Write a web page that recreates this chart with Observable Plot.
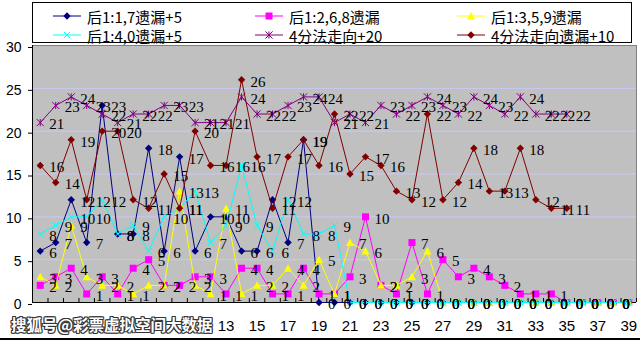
<!DOCTYPE html>
<html>
<head>
<meta charset="utf-8">
<script src="https://cdn.jsdelivr.net/npm/d3@7"></script>
<script src="https://cdn.jsdelivr.net/npm/@observablehq/plot@0.6"></script>
<style>
  html, body { margin:0; padding:0; background:#fff; }
  #chart { position:relative; width:640px; height:341px; overflow:hidden; }
  #chart > svg { position:absolute; left:0; top:0; }
  #legend { position:absolute; left:32px; top:2px; width:598px; height:39px; border:1px solid #000; background:#fff; }
  .item { position:absolute; height:18px; display:flex; align-items:center; font-family:"Noto Sans CJK SC"; font-size:15px; color:#000; white-space:nowrap; }
  .item svg { margin-right:6px; }
  #wm { position:absolute; left:8px; top:312px; width:208px; height:25px; background:#fff; font-family:"Noto Sans CJK SC"; font-weight:bold; font-size:15.5px; line-height:25px; color:#fff; padding-left:3px; box-sizing:border-box; white-space:nowrap;
        text-shadow: 1px 0 #333, -1px 0 #333, 0 1px #333, 0 -1px #333, 1px 1px #666, -1px -1px #333, 1px -1px #333, -1px 1px #333; }
  #bottomline { position:absolute; left:0; top:338px; width:640px; height:2px; background:#000; }
</style>
</head>
<body>
<div id="chart"></div>
<script>
// ---------- data ----------
const categories = [1,2,3,4,5,6,7,8,9,10,11,12,13,14,15,16,17,18,19,20,21,22,23,24,25,26,27,28,29,30,31,32,33,34,35,36,37,38,39];
// category labels 1..11 are hidden under the watermark in the reference
const xTickLabels = [13,15,17,19,21,23,25,27,29,31,33,35,37,39];
const yTicks = [0,5,10,15,20,25,30];

const seriesNames = ["后1:1,7遗漏+5", "后1:2,6,8遗漏", "后1:3,5,9遗漏", "后1:4,0遗漏+5", "4分法走向+20", "4分法走向遗漏+10"];
const seriesColors = ["#000080", "#ff00ff", "#ffff00", "#00ffff", "#800080", "#800000"];
const seriesSymbols = ["diamond", "square", "triangle", "x", "star", "diamond"];

const s1 = [6,7,12,7,23,8,8,18,6,17,6,10,10,6,6,12,7,19,0,0,0,0,0,0,0,0,0,0,0,0,0,0,0,0,0,0,0,0,0];
const s2 = [2,3,4,1,3,1,4,5,2,2,3,3,1,4,4,1,1,4,1,1,3,10,2,1,7,1,5,3,4,3,2,1,1,1,0,0,0,0,0];
const s3 = [3,2,9,3,2,2,1,2,2,13,2,1,11,1,2,2,4,2,5,1,7,6,2,2,3,6,0,0,0,0,0,0,0,0,0,0,0,0,0];
const s4 = [8,9,10,10,12,8,9,6,10,11,13,7,9,16,9,6,12,8,8,9,0,0,0,0,0,0,0,0,0,0,0,0,0,0,0,0,0,0,0];
const s5 = [21,23,24,23,22,21,22,22,23,23,21,21,21,24,22,22,23,24,24,21,22,21,23,22,23,24,23,22,24,23,22,24,22,22,22,null,null,null,null];
const s6 = [16,14,19,12,20,20,12,11,15,11,20,16,16,26,17,11,17,19,16,22,15,17,16,13,12,22,12,14,18,13,13,18,12,11,11,null,null,null,null];
const seriesValues = [s1, s2, s3, s4, s5, s6];

// ---------- symbols (Excel-like markers) ----------
function makeSymbol(kind) {
  return {
    draw(ctx, size) {
      const r = Math.sqrt(size / Math.PI);
      if (kind === "diamond") {
        ctx.moveTo(0, -r); ctx.lineTo(r, 0); ctx.lineTo(0, r); ctx.lineTo(-r, 0); ctx.closePath();
      } else if (kind === "square") {
        ctx.rect(-r, -r, 2 * r, 2 * r);
      } else if (kind === "triangle") {
        ctx.moveTo(0, -r); ctx.lineTo(r, r * 0.85); ctx.lineTo(-r, r * 0.85); ctx.closePath();
      } else if (kind === "x") {
        ctx.moveTo(-r, -r); ctx.lineTo(r, r); ctx.moveTo(-r, r); ctx.lineTo(r, -r);
      } else if (kind === "star") {
        ctx.moveTo(-r, -r); ctx.lineTo(r, r); ctx.moveTo(-r, r); ctx.lineTo(r, -r);
        ctx.moveTo(0, -r); ctx.lineTo(0, r);
      }
    }
  };
}
const filled = k => ["diamond", "square", "triangle"].includes(k);
const markerR = {diamond: 3.7, square: 3.5, triangle: 4, x: 3.2, star: 3.6};

// ---------- table ----------
const rows = [];
seriesValues.forEach((vals, k) => vals.forEach((v, i) => rows.push({k, name: seriesNames[k], x: categories[i], y: v})));
const lastCat = categories[categories.length - 1];
const boundaries = categories.map(c => c - 0.5).concat([lastCat + 0.5]);

// ---------- marks ----------
const marks = [
  Plot.frame({fill: "#c0c0c0", stroke: null}),
  Plot.ruleY(yTicks.filter(t => t > 0 && t < 30), {stroke: "#c8c8f8", strokeWidth: 1}),
  Plot.ruleY([yTicks[yTicks.length - 1]], {stroke: "#808080"}),
  Plot.ruleX([boundaries[boundaries.length - 1]], {stroke: "#808080"}),
  Plot.axisX(boundaries, {tickSize: -4, tickFormat: () => "", stroke: "#000", label: null}),
  Plot.axisX(xTickLabels, {tickSize: 0, tickPadding: 18, fontSize: 15, fontFamily: "Liberation Sans", fill: "#000", label: null}),
  Plot.axisY(yTicks, {tickSize: 4, tickPadding: 7, fontSize: 14, fontFamily: "Liberation Sans", fill: "#000", dy: 2, label: null}),
  Plot.ruleX([boundaries[0]], {stroke: "#000"}),
  Plot.ruleY([0], {stroke: "#000"})
];
seriesValues.forEach((vals, k) => {
  const data = rows.filter(d => d.k === k);
  const sym = seriesSymbols[k];
  marks.push(Plot.line(data, {x: "x", y: "y", stroke: seriesColors[k], strokeWidth: 1}));
  marks.push(Plot.dot(data.filter(d => d.y != null), {
    x: "x", y: "y", r: markerR[sym], symbol: makeSymbol(sym),
    fill: filled(sym) ? seriesColors[k] : "none",
    stroke: filled(sym) ? "none" : seriesColors[k], strokeWidth: 1
  }));
});
// data labels (the last category's labels fall outside the chart and are not shown)
marks.push(Plot.text(rows.filter(d => d.y != null && d.x !== lastCat), {
  x: "x", y: "y", text: d => String(d.y), textAnchor: "start", dx: 9, dy: 2,
  fontSize: 15, fontFamily: "Liberation Serif", fill: "#000"
}));

const svg = Plot.plot({
  width: 640, height: 341,
  marginTop: 45, marginBottom: 39, marginLeft: 32, marginRight: 4,
  x: {type: "linear", domain: [boundaries[0], boundaries[boundaries.length - 1]], label: null},
  y: {domain: [yTicks[0], yTicks[yTicks.length - 1]], label: null},
  style: {background: "transparent", color: "#000", fontFamily: "Liberation Sans"},
  marks
});

const chart = document.getElementById("chart");
chart.appendChild(svg);

// ---------- legend ----------
const legend = document.createElement("div");
legend.id = "legend";
chart.appendChild(legend);
const colX = [20, 222, 424];   // relative to legend box
const rowY = [4, 23];
seriesNames.forEach((name, k) => {
  const item = document.createElement("div");
  item.className = "item";
  item.style.left = colX[k % 3] + "px";
  item.style.top = rowY[Math.floor(k / 3)] + "px";
  const s = d3.create("svg").attr("width", 28).attr("height", 12);
  s.append("line").attr("x1", 0).attr("x2", 28).attr("y1", 6).attr("y2", 6).attr("stroke", seriesColors[k]).attr("stroke-width", 1);
  const sym = seriesSymbols[k];
  const r = markerR[sym];
  s.append("path").attr("transform", "translate(14,6)")
    .attr("d", d3.symbol(makeSymbol(sym), Math.PI * r * r)())
    .attr("fill", filled(sym) ? seriesColors[k] : "none")
    .attr("stroke", filled(sym) ? "none" : seriesColors[k]);
  item.appendChild(s.node());
  const t = document.createElement("span");
  t.textContent = name;
  item.appendChild(t);
  legend.appendChild(item);
});

// ---------- watermark & border ----------
const wm = document.createElement("div");
wm.id = "wm";
wm.textContent = "搜狐号@彩票虚拟空间大数据";
chart.appendChild(wm);
const bl = document.createElement("div");
bl.id = "bottomline";
chart.appendChild(bl);
</script>
</body>
</html>
